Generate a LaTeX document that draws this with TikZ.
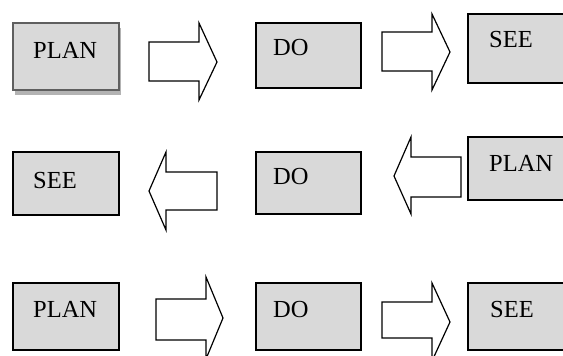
\documentclass[tikz,border=0pt]{standalone}
\usepackage{fontspec}
\setmainfont{Liberation Serif}
\definecolor{boxfill}{HTML}{D9D9D9}
\definecolor{shadowgray}{HTML}{B3B3B3}
\definecolor{frame}{HTML}{5F5F5F}
\tikzset{
  stagebox/.style={draw=black, line width=1.3pt, fill=boxfill},
  leadbox/.style={draw=frame, line width=2.2pt, fill=boxfill},
  blockarrow/.style={draw=black, line width=1.2pt, fill=white, line join=miter},
  word/.style={anchor=base west, inner sep=0pt, font=\fontsize{24.5}{27}\selectfont}
}
\begin{document}
\begin{tikzpicture}[x=1pt, y=-1pt]
  \useasboundingbox (0,0) rectangle (563,356);
  \clip (0,0) rectangle (563,356);

  % ---- first row: PLAN -> DO -> SEE
  \fill[shadowgray] (15,28) rectangle (121,95);
  \node[leadbox, minimum width=106pt, minimum height=67pt, inner sep=0pt] (p1) at (66,56.5) {};
  \node[word] (p1t) at (33,58) {PLAN};
  \node[stagebox, minimum width=105pt, minimum height=65pt, inner sep=0pt] (d1) at (308.5,55.5) {};
  \node[word] (d1t) at (273,55) {DO};
  \node[stagebox, minimum width=110pt, minimum height=69pt, inner sep=0pt] (s1) at (523,48.5) {};
  \node[word] (s1t) at (489,47) {SEE};
  \draw[blockarrow] (149,42) -- (199,42) -- (199,23) -- (217,62) -- (199,100) -- (199,81) -- (149,81) -- cycle;
  \draw[blockarrow] (382,32) -- (432,32) -- (432,14) -- (450,52) -- (432,90) -- (432,71) -- (382,71) -- cycle;

  % ---- second row: SEE <- DO <- PLAN
  \node[stagebox, minimum width=106pt, minimum height=63pt, inner sep=0pt] (s2) at (66,183.5) {};
  \node[word] (s2t) at (33,188) {SEE};
  \node[stagebox, minimum width=105pt, minimum height=62pt, inner sep=0pt] (d2) at (308.5,183) {};
  \node[word] (d2t) at (273,184) {DO};
  \node[stagebox, minimum width=110pt, minimum height=63pt, inner sep=0pt] (p2) at (523,168.5) {};
  \node[word] (p2t) at (489,171) {PLAN};
  \draw[blockarrow] (217,172) -- (166,172) -- (166,152) -- (149,191) -- (166,230) -- (166,210) -- (217,210) -- cycle;
  \draw[blockarrow] (461,157) -- (411,157) -- (411,137) -- (394,176) -- (411,214) -- (411,197) -- (461,197) -- cycle;

  % ---- third row: PLAN -> DO -> SEE
  \node[stagebox, minimum width=106pt, minimum height=67pt, inner sep=0pt] (p3) at (66,316.5) {};
  \node[word] (p3t) at (33,317) {PLAN};
  \node[stagebox, minimum width=105pt, minimum height=67pt, inner sep=0pt] (d3) at (308.5,316.5) {};
  \node[word] (d3t) at (273,317) {DO};
  \node[stagebox, minimum width=110pt, minimum height=67pt, inner sep=0pt] (s3) at (523,316.5) {};
  \node[word] (s3t) at (490,317) {SEE};
  \draw[blockarrow] (156,299) -- (206,299) -- (206,277) -- (223,318) -- (206,359) -- (206,340) -- (156,340) -- cycle;
  \draw[blockarrow] (382,302) -- (432,302) -- (432,283) -- (450,322) -- (432,361) -- (432,338) -- (382,338) -- cycle;
\end{tikzpicture}
\end{document}
